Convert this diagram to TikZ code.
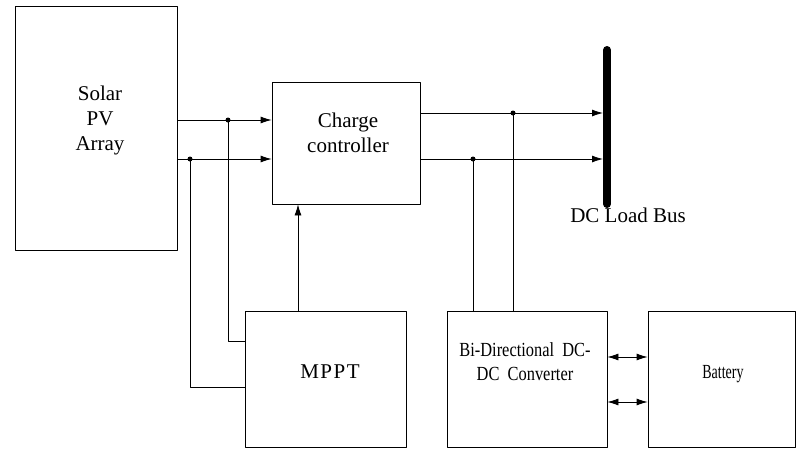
\documentclass[tikz,border=0pt]{standalone}
\usepackage{fontspec}
\setmainfont{Liberation Serif}
\usetikzlibrary{arrows.meta}

\begin{document}
\begin{tikzpicture}[x=1pt,y=-1pt,line cap=round,line join=round,
        blk/.style={draw,line width=0.8pt,inner sep=0pt},
        lbl/.style={align=center,font=\fontsize{21}{25}\selectfont},
        wire/.style={line width=0.8pt},
        arr/.style={wire,-{Latex[length=11pt,width=7pt]}},
        dblarr/.style={wire,{Latex[length=11pt,width=7pt]}-{Latex[length=11pt,width=7pt]}},
        tap/.style={circle,fill,inner sep=0pt,minimum size=5pt}]
        \useasboundingbox (0,0) rectangle (796,448);

        % blocks
        \node[blk,minimum width=162pt,minimum height=244pt] (pv) at (96,128) {};
        \node[blk,minimum width=148pt,minimum height=122pt] (cc) at (346,143) {};
        \node[blk,minimum width=161pt,minimum height=136pt] (mppt) at (325.5,379) {};
        \node[blk,minimum width=160pt,minimum height=136pt] (bdc) at (527,379) {};
        \node[blk,minimum width=147pt,minimum height=136pt] (bat) at (721.5,379) {};

        \node[lbl] (pvtext) at (100,120) {Solar\\PV\\Array};
        \node[lbl] (cctext) at (348,133) {Charge\\controller};
        \node[lbl] (mppttext) at (330,372) {M\kern1.5pt P\kern1.5pt P\kern1.5pt T};
        \node[lbl,font=\fontsize{20}{24}\selectfont] (bdctext) at (525,362)
            {\scalebox{0.82}[1]{Bi-Directional\ \ DC-}\\\scalebox{0.82}[1]{DC\ \ Converter}};
        \node[lbl,font=\fontsize{20}{24}\selectfont] (battext) at (723,374)
            {\scalebox{0.7}[1]{Battery}};

        % DC load bus
        \coordinate (bustop) at (607,50);
        \coordinate (busbot) at (607,204);
        \draw[line width=8pt] (bustop) -- (busbot);
        \node[lbl,anchor=north] (bustext) at (628,204) {DC Load Bus};

        % PV to charge controller
        \coordinate (t1) at (228,120);
        \coordinate (t2) at (190,159);
        \draw[arr] (pv.east |- t1) -- (cc.west |- t1);
        \draw[arr] (pv.east |- t2) -- (cc.west |- t2);
        \node[tap] at (t1) {};
        \node[tap] at (t2) {};
        \draw[wire] (t1) |- ([yshift=38pt]mppt.west);
        \draw[wire] (t2) |- ([yshift=-8pt]mppt.west);

        % MPPT to charge controller
        \coordinate (m1) at (298,311);
        \draw[arr] (mppt.north -| m1) -- (cc.south -| m1);

        % charge controller to bus
        \coordinate (o1) at (513,113);
        \coordinate (o2) at (473,159);
        \draw[arr] (cc.east |- o1) -- ([xshift=-4pt]bustop |- o1);
        \draw[arr] (cc.east |- o2) -- ([xshift=-4pt]bustop |- o2);
        \node[tap] at (o1) {};
        \node[tap] at (o2) {};
        \draw[wire] (o1) -- (bdc.north -| o1);
        \draw[wire] (o2) -- (bdc.north -| o2);

        % converter and battery
        \draw[dblarr] ([yshift=22pt]bdc.east) -- ([yshift=22pt]bat.west);
        \draw[dblarr] ([yshift=-23pt]bdc.east) -- ([yshift=-23pt]bat.west);
    \end{tikzpicture}
\end{document}
